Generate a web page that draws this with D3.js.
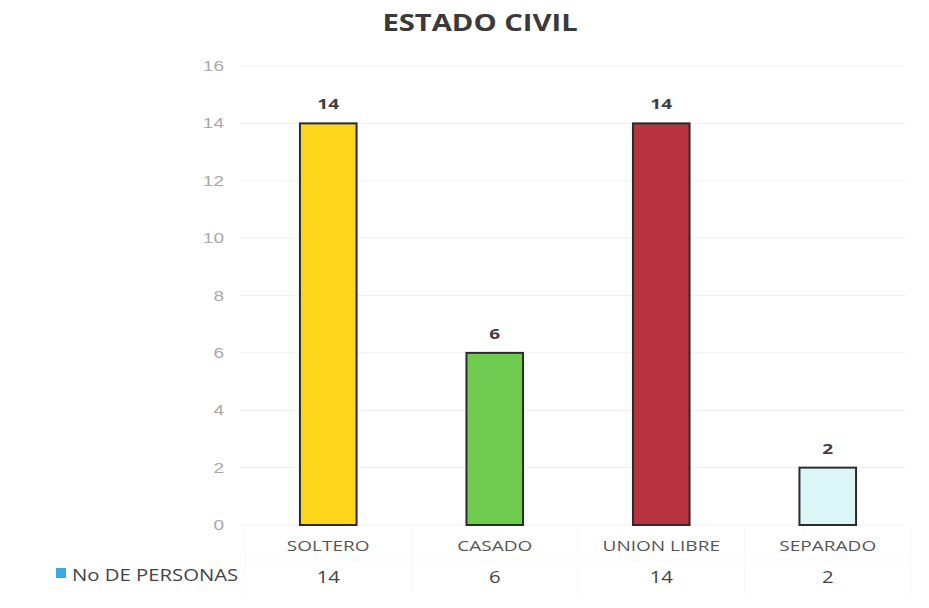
<!DOCTYPE html>
<html>
<head>
<meta charset="utf-8">
<script src="https://cdn.jsdelivr.net/npm/d3@7"></script>
<style>
  body { margin: 0; background: #fff; }
  text { font-family: "Open Sans", "DejaVu Sans", sans-serif; }
</style>
</head>
<body>
<svg id="chart" width="929" height="608"></svg>
<script>
// data
var categories = ["SOLTERO", "CASADO", "UNION LIBRE", "SEPARADO"];
var values = [14, 6, 14, 2];
var barColors = ["#fdd61c", "#6fcb4f", "#b8323f", "#dcf5f7"];
var seriesName = "No DE PERSONAS";
var yTicks = [0, 2, 4, 6, 8, 10, 12, 14, 16];

// the source picture is stretched sideways, so text is too
var SX = 1.27;

var svg = d3.select("#chart");

var x = d3.scaleBand()
    .domain(categories)
    .range([245, 911])
    .paddingInner(0.66)
    .paddingOuter(0.33);

var y = d3.scaleLinear()
    .domain([0, 16])
    .range([525, 66]);

function place(fx, fy) {
    return function (d, i) {
        return "translate(" + fx(d, i) + "," + fy(d, i) + ") scale(" + SX + ",1)";
    };
}

// title
svg.append("text")
    .attr("transform", "translate(480,31) scale(" + SX + ",1)")
    .attr("text-anchor", "middle")
    .style("font-size", "23px")
    .style("font-weight", "bold")
    .style("fill", "#3a3a3a")
    .text("ESTADO CIVIL");

// gridlines
svg.append("g").selectAll("line")
    .data(yTicks)
    .enter().append("line")
    .attr("x1", 240)
    .attr("x2", 905)
    .attr("y1", function (d) { return y(d); })
    .attr("y2", function (d) { return y(d); })
    .style("stroke", "#f0f0f0")
    .style("stroke-width", 1);

// y axis labels
svg.append("g").selectAll("text")
    .data(yTicks)
    .enter().append("text")
    .attr("transform", place(function () { return 224; }, function (d) { return y(d) + 5; }))
    .attr("text-anchor", "end")
    .style("font-size", "15px")
    .style("fill", "#a9a9a9")
    .style("font-family", "'Liberation Sans', sans-serif")
    .text(function (d) { return d; });

// bars
svg.append("g").selectAll("rect")
    .data(values)
    .enter().append("rect")
    .attr("x", function (d, i) { return x(categories[i]); })
    .attr("width", x.bandwidth())
    .attr("y", function (d) { return y(d); })
    .attr("height", function (d) { return y(0) - y(d); })
    .style("fill", function (d, i) { return barColors[i]; })
    .style("stroke", "#2b2b2b")
    .style("stroke-width", 2);

// value labels
svg.append("g").selectAll("text")
    .data(values)
    .enter().append("text")
    .attr("transform", place(
        function (d, i) { return x(categories[i]) + x.bandwidth() / 2; },
        function (d) { return y(d) - 14; }))
    .attr("text-anchor", "middle")
    .style("font-size", "15px")
    .style("font-weight", "bold")
    .style("fill", "#404040")
    .text(function (d) { return d; });

// data table: very faint lines
var table = svg.append("g");
table.append("line")
    .attr("x1", 245).attr("x2", 911).attr("y1", 560).attr("y2", 560)
    .style("stroke", "#f7f7f7");
table.selectAll("line.v")
    .data(d3.range(categories.length + 1))
    .enter().append("line")
    .attr("class", "v")
    .attr("x1", function (i) { return 245 + i * x.step(); })
    .attr("x2", function (i) { return 245 + i * x.step(); })
    .attr("y1", 528)
    .attr("y2", 595)
    .style("stroke", "#f7f7f7");

// category labels
table.selectAll("text.cat")
    .data(categories)
    .enter().append("text")
    .attr("class", "cat")
    .attr("transform", place(
        function (d) { return x(d) + x.bandwidth() / 2; },
        function () { return 551; }))
    .attr("text-anchor", "middle")
    .style("font-size", "15px")
    .style("fill", "#555")
    .text(function (d) { return d; });

// table values
table.selectAll("text.val")
    .data(values)
    .enter().append("text")
    .attr("class", "val")
    .attr("transform", place(
        function (d, i) { return x(categories[i]) + x.bandwidth() / 2; },
        function () { return 583; }))
    .attr("text-anchor", "middle")
    .style("font-size", "16px")
    .style("fill", "#444")
    .text(function (d) { return d; });

// legend key
table.append("rect")
    .attr("x", 56).attr("y", 568).attr("width", 10).attr("height", 10)
    .style("fill", "#3fa6e8");
table.append("text")
    .attr("transform", "translate(72,581) scale(" + SX + ",1)")
    .style("font-size", "16px")
    .style("fill", "#444")
    .text(seriesName);
</script>
</body>
</html>
